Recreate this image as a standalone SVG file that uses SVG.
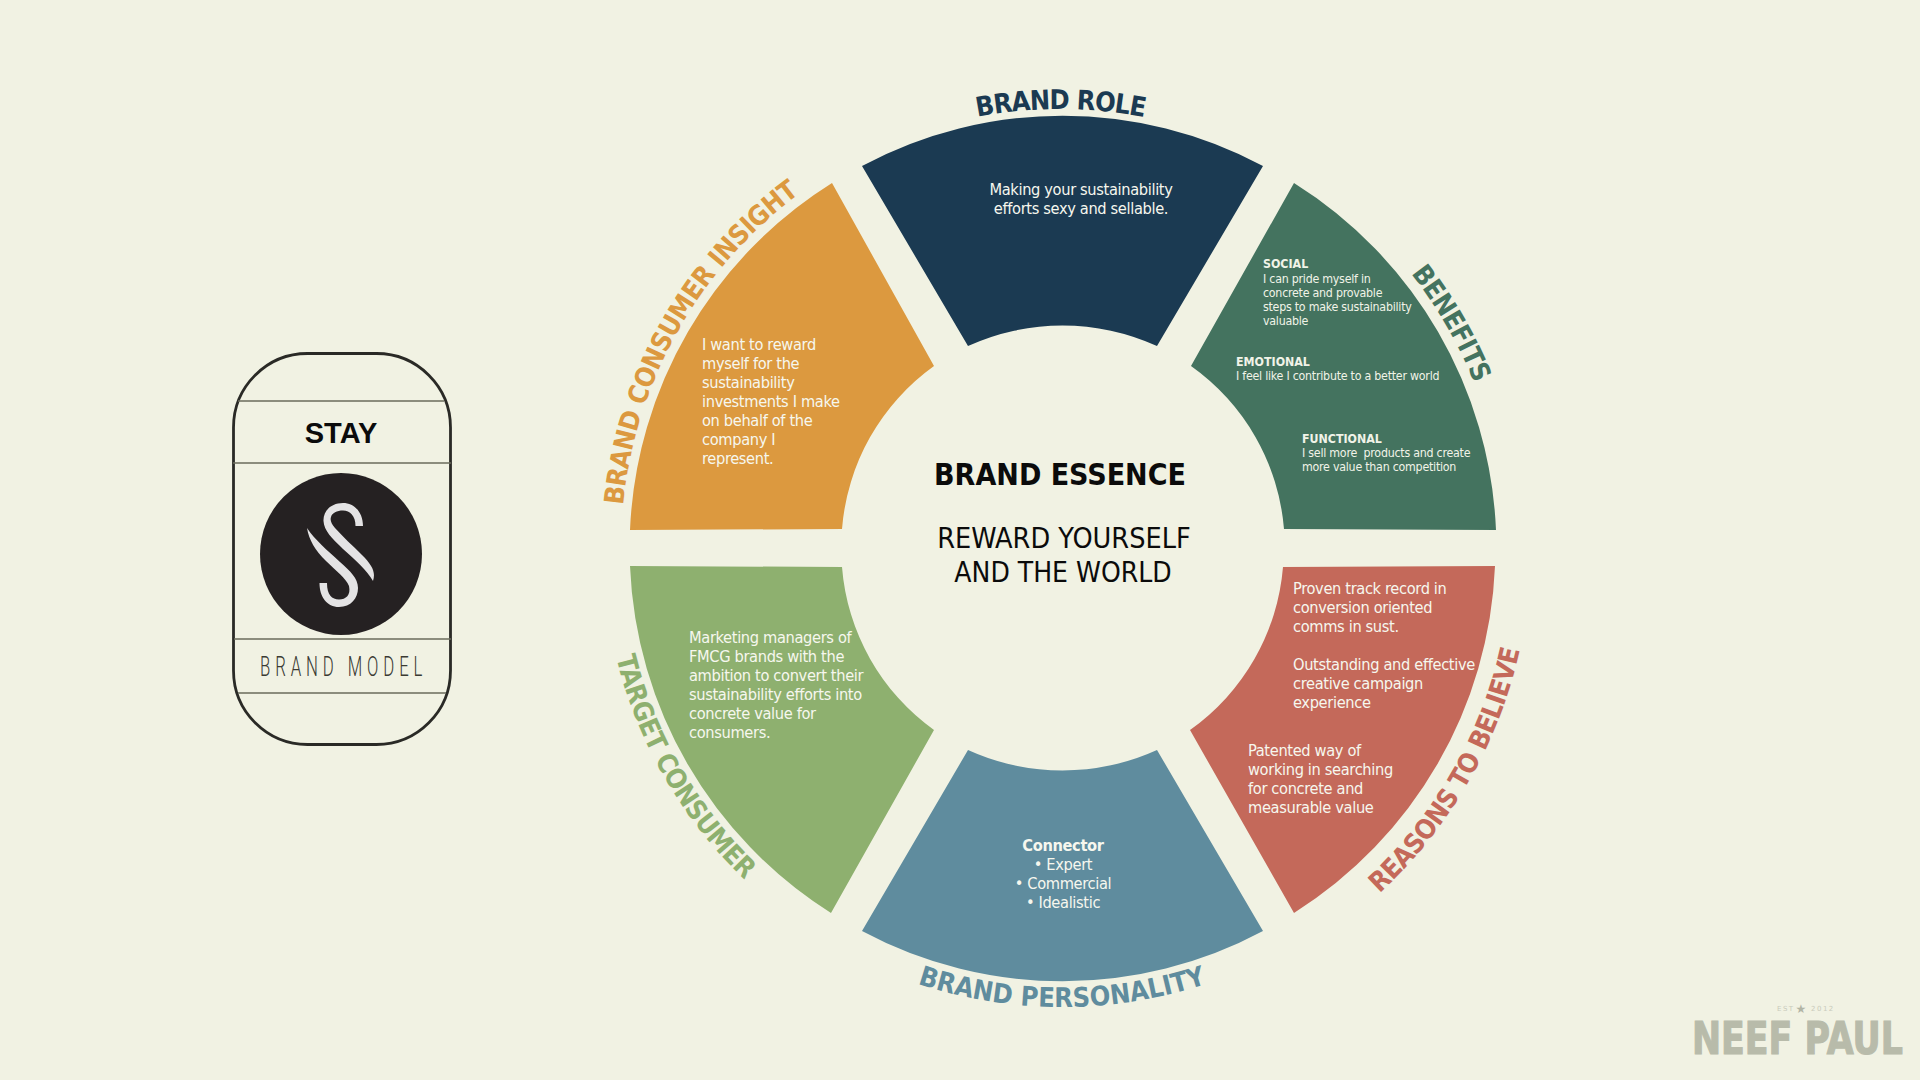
<svg xmlns="http://www.w3.org/2000/svg" width="1920" height="1080" viewBox="0 0 1920 1080">
<style>
text{font-family:"DejaVu Sans Condensed","DejaVu Sans",sans-serif}
.b{fill:#f6f7ee;font-size:16.3px;letter-spacing:-.36px}
.s{fill:#f1f3e8;font-size:12.3px;letter-spacing:-.24px}
.s.sb{letter-spacing:0}
.sb{font-weight:700}
.c{text-anchor:middle}
.lab{font-weight:700;font-size:27px;text-anchor:middle;letter-spacing:-.6px}
.ink{fill:#0b0b0b}
.rule{stroke:#6b6c5c;stroke-width:1.4;fill:none}
</style>
<defs>
<path id="arcOut" d="M621 548A441 441 0 0 1 1503 548"/>
<path id="arcOutB" d="M618 548A444 444 0 0 1 1506 548"/>
<path id="arcIn" d="M603 548A459 459 0 0 0 1521 548"/>
<path id="arcInB" d="M593 548A469 469 0 0 0 1531 548"/>
</defs>
<rect width="1920" height="1080" fill="#f1f2e3"/>
<g id="logo">
<rect x="233.500" y="353.500" width="217" height="391" rx="74" fill="none" stroke="#2a2a26" stroke-width="2.800"/>
<path class="rule" d="M238 401H444M233 463H451M234 639H451M238 693H446"/>
<text x="341" y="443" class="c" style="font-family:'Liberation Sans',sans-serif;font-weight:700;font-size:29px" fill="#0b0b0b">STAY</text>
<circle cx="341" cy="554" r="81" fill="#252122"/>
<path d="M363 526C363 512 354 503 343 503C331 503 323 511 323.500 521C324 531 332 538 343 549C355 560 367 570 373 581C376 572 372 565 362 555C352 545 343 537 335 528C331 523 330 520 331 517C332 513 337 510.500 343 510.500C350 510.500 355.500 516 355.500 526Z" fill="#e4e3e4"/>
<path d="M307 528C309 540 315 550 326 561C336 571 346 578 349 586C351 595 346 599.500 339 599.500C332 599.500 327 595 327 583H319.500C319.500 597 327 607 339 607C351 607 358 598 358 588C358 578 350 571 340 562C327 550 315 540 307 528Z" fill="#e4e3e4"/>
<text transform="translate(260 676) scale(.62 1)" textLength="262" style="font-family:Roboto,sans-serif;font-weight:300;font-size:27px" fill="#3a3a33">BRAND MODEL</text>
</g>
<g id="brand-role">
<path d="M862 166A425 425 0 0 1 1263 166L1157 346A228 228 0 0 0 968 346Z" fill="#1b3a52"/>
<text x="1081" y="195" class="b c">Making your sustainability</text>
<text x="1081" y="214" class="b c">efforts sexy and sellable.</text>
<text class="lab" fill="#1b3a52" style="letter-spacing:-.9px" transform="translate(-1.500 2)"><textPath href="#arcOut" startOffset="50%">BRAND ROLE</textPath></text>
</g>
<g id="benefits">
<path d="M1294 183A431 431 0 0 1 1496 530L1284 529A222 222 0 0 0 1191 366Z" fill="#44735f"/>
<text class="s sb" x="1263" y="268">SOCIAL</text>
<text class="s" x="1263" y="283">I can pride myself in</text>
<text class="s" x="1263" y="297">concrete and provable</text>
<text class="s" x="1263" y="311">steps to make sustainability</text>
<text class="s" x="1263" y="325">valuable</text>
<text class="s sb" x="1236" y="366">EMOTIONAL</text>
<text class="s" x="1236" y="380">I feel like I contribute to a better world</text>
<text class="s sb" x="1302" y="443">FUNCTIONAL</text>
<text class="s" x="1302" y="457" xml:space="preserve">I sell more  products and create</text>
<text class="s" x="1302" y="471">more value than competition</text>
<text class="lab" fill="#44735f" transform="rotate(60 1062 548)"><textPath href="#arcOutB" startOffset="50%">BENEFITS</textPath></text>
</g>
<g id="reasons-to-believe">
<path d="M1283 567L1495 566A431 431 0 0 1 1294 913L1190 730A222 222 0 0 0 1283 567Z" fill="#c4695a"/>
<text class="b" x="1293" y="594">Proven track record in</text>
<text class="b" x="1293" y="613">conversion oriented</text>
<text class="b" x="1293" y="632">comms in sust.</text>
<text class="b" x="1293" y="670">Outstanding and effective</text>
<text class="b" x="1293" y="689">creative campaign</text>
<text class="b" x="1293" y="708">experience</text>
<text class="b" x="1248" y="756">Patented way of</text>
<text class="b" x="1248" y="775">working in searching</text>
<text class="b" x="1248" y="794">for concrete and</text>
<text class="b" x="1248" y="813">measurable value</text>
<text class="lab" fill="#c4695a" transform="rotate(-60 1062 548)"><textPath href="#arcInB" startOffset="50%">REASONS TO BELIEVE</textPath></text>
</g>
<g id="brand-personality">
<path d="M862 931A425 425 0 0 0 1263 931L1157 750A228 228 0 0 1 968 750Z" fill="#5f8c9e"/>
<text class="b c sb" x="1063" y="851">Connector</text>
<text class="b c" x="1063" y="870">• Expert</text>
<text class="b c" x="1063" y="889">• Commercial</text>
<text class="b c" x="1063" y="908">• Idealistic</text>
<text class="lab" fill="#5f8c9e" style="letter-spacing:0"><textPath href="#arcIn" startOffset="50%">BRAND PERSONALITY</textPath></text>
</g>
<g id="target-consumer">
<path d="M630 566L842 567A222 222 0 0 0 934 730L831 913A431 431 0 0 1 630 566Z" fill="#8eb06f"/>
<text class="b" x="689" y="643">Marketing managers of</text>
<text class="b" x="689" y="662">FMCG brands with the</text>
<text class="b" x="689" y="681">ambition to convert their</text>
<text class="b" x="689" y="700">sustainability efforts into</text>
<text class="b" x="689" y="719">concrete value for</text>
<text class="b" x="689" y="738">consumers.</text>
<text class="lab" fill="#8eb06f" transform="rotate(60 1062 548)"><textPath href="#arcIn" startOffset="50%">TARGET CONSUMER</textPath></text>
</g>
<g id="brand-consumer-insight">
<path d="M630 530A431 431 0 0 1 832 183L934 366A222 222 0 0 0 842 529Z" fill="#dc993f"/>
<text class="b" x="702" y="350">I want to reward</text>
<text class="b" x="702" y="369">myself for the</text>
<text class="b" x="702" y="388">sustainability</text>
<text class="b" x="702" y="407">investments I make</text>
<text class="b" x="702" y="426">on behalf of the</text>
<text class="b" x="702" y="445">company I</text>
<text class="b" x="702" y="464">represent.</text>
<text class="lab" fill="#dc993f" transform="rotate(-60.500 1062 548)"><textPath href="#arcOut" startOffset="50%">BRAND CONSUMER INSIGHT</textPath></text>
</g>
<g id="brand-essence">
<text class="ink c" x="1060" y="485" style="font-weight:700;font-size:30px">BRAND ESSENCE</text>
<text class="ink c" x="1064" y="548" style="font-size:28.500px">REWARD YOURSELF</text>
<text class="ink c" x="1063" y="582" style="font-size:28px">AND THE WORLD</text>
</g>
<g id="watermark">
<text x="1777" y="1011" style="font-family:'DejaVu Sans',sans-serif;font-size:7px;letter-spacing:1.500px" fill="#c9cbbb">EST</text>
<text x="1801" y="1013" class="c" style="font-family:'DejaVu Sans',sans-serif;font-size:12px" fill="#b2b5a5">★</text>
<text x="1811" y="1011" style="font-family:'DejaVu Sans',sans-serif;font-size:7px;letter-spacing:1.500px" fill="#c9cbbb">2012</text>
<text transform="translate(1692 1054) scale(.79 1)" style="font-family:'DejaVu Sans',sans-serif;font-weight:700;font-size:44px" fill="#b8bbaa" stroke="#b8bbaa" stroke-width="1.200">NEEF PAUL</text>
</g>
</svg>
